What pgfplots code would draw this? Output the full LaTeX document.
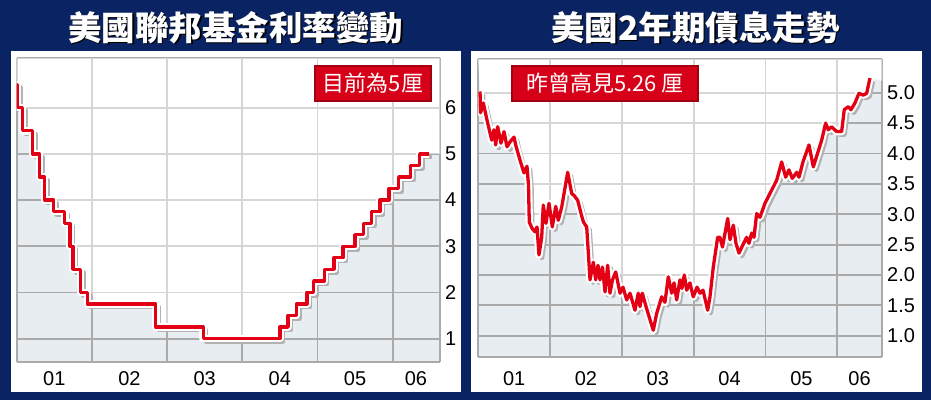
\documentclass[border=0pt]{standalone}
\usepackage{fontspec}
\setmainfont{Liberation Sans}
\newfontfamily\cjk{Noto Sans CJK TC}
\usepackage{pgfplots}
\pgfplotsset{compat=1.18}
\usepackage{pgfplotstable}
\usepgfplotslibrary{fillbetween}

\definecolor{navy}{RGB}{10,35,98}
\definecolor{linered}{RGB}{228,0,20}
\definecolor{boxred}{RGB}{214,0,24}
\definecolor{boxedge}{RGB}{160,0,16}
\definecolor{fillgrey}{RGB}{232,237,241}
\definecolor{griddark}{RGB}{170,170,170}
\definecolor{gridlight}{RGB}{214,214,214}
\definecolor{shadowgrey}{RGB}{178,178,178}

% fed funds target rate (step series)
\pgfplotstableread{
x y
2001.000 6.50
2001.010 6.00
2001.080 5.50
2001.210 5.00
2001.300 4.50
2001.370 4.00
2001.490 3.75
2001.640 3.50
2001.710 3.00
2001.750 2.50
2001.850 2.00
2001.940 1.75
2002.850 1.25
2003.480 1.00
2004.500 1.25
2004.610 1.50
2004.720 1.75
2004.860 2.00
2004.950 2.25
2005.090 2.50
2005.220 2.75
2005.340 3.00
2005.500 3.25
2005.610 3.50
2005.720 3.75
2005.830 4.00
2005.950 4.25
2006.080 4.50
2006.240 4.75
2006.360 5.00
2006.480 5.00
}\fedtable

% 2-year treasury yield
\pgfplotstableread{
x y
2001.024 5.02
2001.031 4.67
2001.070 4.83
2001.121 4.55
2001.187 4.22
2001.219 4.39
2001.242 4.14
2001.270 4.44
2001.316 4.17
2001.358 4.36
2001.400 4.11
2001.442 4.19
2001.497 4.27
2001.525 4.12
2001.581 3.89
2001.636 3.68
2001.678 3.79
2001.699 3.48
2001.710 2.87
2001.748 2.77
2001.790 2.71
2001.818 2.79
2001.845 2.33
2001.883 2.62
2001.905 3.15
2001.943 2.85
2001.985 3.18
2002.031 2.79
2002.078 3.13
2002.114 2.90
2002.162 3.12
2002.245 3.69
2002.301 3.34
2002.333 3.31
2002.384 3.23
2002.440 2.97
2002.465 2.87
2002.510 2.79
2002.556 1.92
2002.602 2.21
2002.635 1.92
2002.667 2.16
2002.695 1.92
2002.730 2.13
2002.765 1.72
2002.802 2.16
2002.834 1.70
2002.869 1.92
2002.914 2.05
2002.974 1.70
2003.015 1.80
2003.067 1.59
2003.113 1.70
2003.182 1.42
2003.228 1.70
2003.252 1.48
2003.284 1.70
2003.336 1.48
2003.437 1.09
2003.485 1.37
2003.554 1.64
2003.600 1.55
2003.646 1.97
2003.694 1.70
2003.726 1.87
2003.763 1.59
2003.809 1.92
2003.837 1.78
2003.869 2.00
2003.903 1.75
2003.948 1.87
2003.994 1.64
2004.046 1.80
2004.088 1.70
2004.130 1.75
2004.195 1.42
2004.227 1.64
2004.273 2.13
2004.334 2.62
2004.366 2.62
2004.401 2.46
2004.474 2.93
2004.506 2.58
2004.552 2.82
2004.589 2.52
2004.631 2.36
2004.687 2.50
2004.738 2.62
2004.770 2.52
2004.808 2.69
2004.840 2.62
2004.877 3.01
2004.923 2.95
2004.993 3.18
2005.109 3.45
2005.156 3.56
2005.226 3.86
2005.281 3.61
2005.327 3.73
2005.373 3.59
2005.435 3.69
2005.467 3.61
2005.522 3.86
2005.606 4.14
2005.666 3.78
2005.717 3.97
2005.783 4.22
2005.838 4.50
2005.875 4.39
2005.919 4.44
2005.992 4.36
2006.061 4.36
2006.097 4.72
2006.153 4.77
2006.191 4.72
2006.246 4.83
2006.302 4.99
2006.362 4.96
2006.409 4.99
2006.455 5.24
}\yieldtable

\tikzset{
  lgrid/.style={draw=gridlight, line width=1.8pt, blend mode=darken},
  shadowline/.style={draw=shadowgrey, line width=4.5pt, line join=round, xshift=3pt, yshift=-3pt},
  haloline/.style={draw=white, line width=7.5pt, line join=round},
  redline/.style={draw=linered, line width=3.3pt, line join=round},
}

\pgfplotsset{
  panel/.style={
    scale only axis,
    anchor=south west,
    axis background/.style={fill=fillgrey},
    axis line style={draw=none},
    major tick length=0pt, minor tick length=0pt,
    xmajorgrids=false, xminorgrids=true,
    ymajorgrids=true, yminorgrids=true,
    grid style={draw=griddark, line width=1.8pt},
    minor grid style={draw=griddark, line width=1.8pt},
    yticklabel pos=right,
    tick label style={font=\fontsize{20}{20}\selectfont},
    xticklabel style={inner sep=0pt, anchor=north},
    yticklabel style={inner sep=0pt, anchor=west, xshift=5pt},
    xmin=2001,
    xtick={2001.5,2002.5,2003.5,2004.5,2005.5,2006.31},
    xticklabels={01,02,03,04,05,06},
  },
}

\begin{document}
\begin{tikzpicture}
\pgfplotsset{set layers}
\begin{pgfonlayer}{axis background}
\fill[navy] (0pt,0pt) rectangle (931pt,400pt);
\fill[white] (11pt,8.3pt) rectangle (461pt,349.3pt);
\fill[white] (471pt,8.3pt) rectangle (921.7pt,349.3pt);
\end{pgfonlayer}

% left: fed funds rate
\begin{axis}[panel, at={(16.7pt,38.3pt)}, width=423.3pt, height=303.4pt,
  xmax=2006.63, ymin=0.5, ymax=7.07,
  minor xtick={2001,2002,2003,2004,2005,2006,2006.63},
  ytick={1,2,3,4,5,6}, yticklabels={1,2,3,4,5,6},
  minor ytick={0.5,7.07},
  xticklabel style={yshift=-10pt}]
\addplot[draw=none, name path=fed, const plot] table {\fedtable};
\addplot[draw=none, name path=fedtop] coordinates {(2001,7.07) (2006.63,7.07) (2006.63,5.0)};
\addplot[fill=white, draw=none] fill between[of=fed and fedtop];
\pgfplotsinvokeforeach{2001,2002,2003,2004,2005,2006,2006.63}{
  \draw[lgrid] (axis cs:#1,0.5) -- (axis cs:#1,7.07);}
\pgfplotsinvokeforeach{0.5,1,2,3,4,5,6,7.07}{
  \draw[lgrid] (axis cs:2001,#1) -- (axis cs:2006.63,#1);}
\addplot[shadowline, const plot] table {\fedtable};
\addplot[haloline, const plot] table {\fedtable};
\addplot[redline, const plot] table {\fedtable};
\end{axis}

% right: 2-year yield
\begin{axis}[panel, at={(478.3pt,42.7pt)}, width=403.7pt, height=298pt,
  xmax=2006.623, ymin=0.645, ymax=5.55,
  minor xtick={2001,2002,2003,2004,2005,2006,2006.623},
  ytick={1,1.5,2,2.5,3,3.5,4,4.5,5},
  yticklabels={1.0,1.5,2.0,2.5,3.0,3.5,4.0,4.5,5.0},
  minor ytick={0.645,5.55},
  xticklabel style={yshift=-14pt}]
\addplot[draw=none, name path=yld] table {\yieldtable};
\addplot[draw=none, name path=yldtop] coordinates {(2001,5.55) (2006.623,5.55) (2006.623,5.2)};
\addplot[fill=white, draw=none] fill between[of=yld and yldtop];
\pgfplotsinvokeforeach{2001,2002,2003,2004,2005,2006,2006.623}{
  \draw[lgrid] (axis cs:#1,0.645) -- (axis cs:#1,5.55);}
\pgfplotsinvokeforeach{0.645,1,1.5,2,2.5,3,3.5,4,4.5,5,5.55}{
  \draw[lgrid] (axis cs:2001,#1) -- (axis cs:2006.623,#1);}
\addplot[shadowline] table {\yieldtable};
\addplot[haloline] table {\yieldtable};
\addplot[redline] table {\yieldtable};
\end{axis}

% titles
\node[text=black] at (237pt,371pt) {\cjk\bfseries\fontsize{33.5}{34}\selectfont 美國聯邦基金利率變動};
\node[text=white] at (235.5pt,372.5pt) {\cjk\bfseries\fontsize{33.5}{34}\selectfont 美國聯邦基金利率變動};
\node[text=black] at (697pt,371pt) {\cjk\bfseries\fontsize{33.5}{34}\selectfont 美國2年期債息走勢};
\node[text=white] at (695.5pt,372.5pt) {\cjk\bfseries\fontsize{33.5}{34}\selectfont 美國2年期債息走勢};

% callouts
\node[fill=boxred, draw=boxedge, line width=1.2pt, minimum width=116pt, minimum height=35pt, inner sep=0pt, text=white]
  at (373pt,316.5pt) {\cjk\fontsize{22}{22}\selectfont 目前為5厘};
\node[fill=boxred, draw=boxedge, line width=1.2pt, minimum width=186pt, minimum height=35pt, inner sep=0pt, text=white]
  at (605pt,316.5pt) {\cjk\fontsize{22}{22}\selectfont 昨曾高見5.26 厘};
\end{tikzpicture}
\end{document}
